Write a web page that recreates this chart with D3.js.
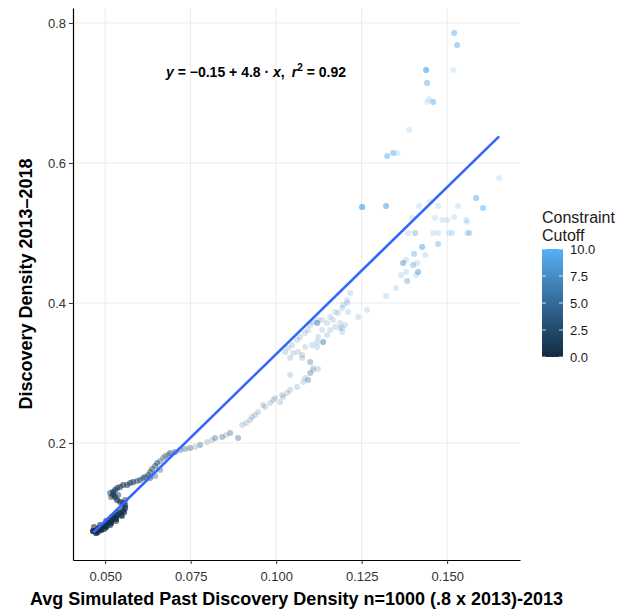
<!DOCTYPE html>
<html>
<head>
<meta charset="utf-8">
<script src="https://cdn.jsdelivr.net/npm/d3@7"></script>
<style>
body { margin: 0; background: #fff; }
text { font-family: "Liberation Sans", Arial, sans-serif; }
</style>
</head>
<body>
<div id="chart"></div>
<script>
// rows: [avg simulated past density, discovery density 2013-2018, constraint cutoff, overlapping runs]
var lowCutoff = [
    [0.04649, 0.07429, 0.00, 10], [0.04737, 0.07143, 0.05, 8], [0.04708, 0.07429, 0.10, 10],
    [0.04795, 0.07714, 0.15, 10], [0.04883, 0.07571, 0.20, 8], [0.04854, 0.07857, 0.25, 10],
    [0.04942, 0.08143, 0.30, 9], [0.05029, 0.08000, 0.35, 8], [0.05000, 0.08286, 0.40, 9],
    [0.05088, 0.08571, 0.45, 9], [0.05175, 0.08571, 0.50, 8], [0.05146, 0.08857, 0.55, 8],
    [0.05234, 0.09143, 0.60, 8], [0.05322, 0.09143, 0.65, 7], [0.05292, 0.09429, 0.70, 7],
    [0.05351, 0.09714, 0.75, 7], [0.05468, 0.09714, 0.80, 6], [0.05439, 0.10000, 0.85, 6],
    [0.05556, 0.10143, 0.90, 6], [0.05526, 0.10429, 0.95, 6], [0.05585, 0.10714, 1.00, 6],
    [0.05585, 0.11143, 1.05, 5],
    [0.04795, 0.07286, 0.12, 5], [0.04971, 0.07714, 0.32, 5], [0.05146, 0.08286, 0.52, 5],
    [0.05322, 0.08857, 0.68, 4], [0.05497, 0.09571, 0.88, 4], [0.04678, 0.08000, 0.08, 4],
    [0.04854, 0.08286, 0.28, 4], [0.05029, 0.08857, 0.48, 4], [0.05205, 0.09429, 0.66, 4],
    [0.05380, 0.10143, 0.86, 4]
];

var hookCutoff = [
    [0.05526, 0.11429, 1.10, 5], [0.05439, 0.11571, 1.15, 5], [0.05351, 0.11857, 1.20, 5],
    [0.05292, 0.12286, 1.25, 5], [0.05234, 0.12571, 1.30, 5], [0.05234, 0.13000, 1.35, 5],
    [0.05292, 0.13286, 1.40, 4], [0.05351, 0.13571, 1.45, 4], [0.05439, 0.13714, 1.50, 4],
    [0.05526, 0.14000, 1.55, 4], [0.05643, 0.14000, 1.60, 4], [0.05731, 0.14286, 1.70, 4],
    [0.05585, 0.11857, 1.12, 3], [0.05175, 0.12286, 1.28, 3], [0.05146, 0.12857, 1.33, 3],
    [0.05380, 0.12571, 1.38, 3],
    [0.05819, 0.14429, 1.80, 4], [0.05936, 0.14571, 1.90, 3], [0.06023, 0.14714, 2.00, 3],
    [0.06111, 0.15000, 2.10, 3], [0.06170, 0.15143, 2.20, 3], [0.06257, 0.15429, 2.30, 3],
    [0.06316, 0.15000, 2.35, 3], [0.06316, 0.15857, 2.40, 3], [0.06374, 0.16286, 2.50, 3],
    [0.06462, 0.15286, 2.55, 2], [0.06462, 0.16714, 2.60, 3], [0.06520, 0.17143, 2.70, 3],
    [0.06608, 0.16143, 2.75, 2], [0.06608, 0.17429, 2.80, 2], [0.06696, 0.17857, 2.90, 2],
    [0.06754, 0.18143, 3.00, 2], [0.06842, 0.18286, 3.10, 2], [0.06900, 0.18571, 3.20, 3],
    [0.07047, 0.18714, 3.30, 3], [0.07193, 0.19000, 3.40, 2], [0.07339, 0.19143, 3.50, 2],
    [0.07485, 0.19286, 3.60, 2], [0.07632, 0.19429, 3.70, 1], [0.07778, 0.19714, 3.80, 2]
];

var midCutoff = [
    [0.07982, 0.20143, 3.90, 1], [0.08128, 0.20429, 4.00, 1], [0.08216, 0.20714, 4.05, 2],
    [0.08421, 0.20857, 4.10, 2], [0.08538, 0.21143, 4.20, 1], [0.08655, 0.21429, 4.25, 2],
    [0.08889, 0.20714, 4.30, 2], [0.09006, 0.22571, 4.40, 1], [0.09123, 0.22857, 4.45, 1],
    [0.09240, 0.23286, 4.50, 1], [0.09298, 0.23714, 4.55, 1], [0.09386, 0.24000, 4.60, 1],
    [0.09474, 0.24429, 4.65, 1], [0.09620, 0.25429, 4.70, 1], [0.09678, 0.25143, 4.75, 1],
    [0.09825, 0.25714, 4.80, 1], [0.09912, 0.26143, 4.85, 1], [0.09971, 0.26429, 4.90, 1],
    [0.10117, 0.25857, 4.95, 1], [0.10175, 0.26857, 5.00, 1], [0.10205, 0.26571, 5.05, 1],
    [0.10322, 0.27143, 5.10, 1], [0.10409, 0.27571, 5.15, 1], [0.10409, 0.29714, 5.20, 1],
    [0.10614, 0.28000, 5.25, 1], [0.10790, 0.28714, 5.30, 1], [0.10848, 0.29286, 5.35, 1],
    [0.10936, 0.29000, 5.40, 2], [0.10994, 0.30000, 5.45, 2], [0.11082, 0.30429, 5.50, 1],
    [0.11082, 0.30714, 5.55, 1], [0.11228, 0.30571, 5.60, 1], [0.10994, 0.31571, 5.65, 2]
];

var bandCutoff = [
    [0.10263, 0.33000, 5.70, 1], [0.10409, 0.32143, 5.72, 1], [0.10497, 0.32857, 5.75, 1],
    [0.10643, 0.33000, 5.80, 1], [0.10760, 0.32571, 5.82, 1], [0.10760, 0.32143, 5.85, 1],
    [0.10351, 0.33571, 5.90, 1], [0.10468, 0.34000, 5.95, 1], [0.10614, 0.34714, 6.00, 1],
    [0.10848, 0.33714, 6.05, 1], [0.10702, 0.35143, 6.10, 1], [0.11053, 0.34000, 6.15, 1],
    [0.11199, 0.33714, 6.20, 1], [0.10848, 0.35714, 6.25, 1], [0.11199, 0.34429, 6.30, 1],
    [0.11374, 0.34429, 6.35, 3], [0.10936, 0.36143, 6.40, 1], [0.11228, 0.35143, 6.45, 1],
    [0.10994, 0.36857, 6.50, 1], [0.11491, 0.35429, 6.55, 1], [0.11082, 0.37286, 6.60, 1],
    [0.11345, 0.36143, 6.65, 1], [0.11199, 0.37143, 6.70, 3], [0.11579, 0.36143, 6.72, 1],
    [0.11228, 0.37571, 6.75, 1], [0.11345, 0.37571, 6.80, 1], [0.11725, 0.36571, 6.82, 1],
    [0.11491, 0.37143, 6.85, 1], [0.11871, 0.36429, 6.88, 1], [0.11930, 0.36429, 6.90, 1],
    [0.11930, 0.35857, 6.92, 1], [0.12018, 0.36857, 6.95, 1], [0.11579, 0.38000, 7.00, 1],
    [0.11871, 0.37143, 7.02, 1], [0.11667, 0.37571, 7.05, 1], [0.11725, 0.38714, 7.10, 1],
    [0.11813, 0.38571, 7.15, 1], [0.11930, 0.39286, 7.20, 1], [0.11959, 0.39714, 7.25, 1],
    [0.12076, 0.40000, 7.30, 1], [0.12076, 0.40429, 7.35, 1], [0.12105, 0.38714, 7.40, 1],
    [0.12164, 0.41429, 7.45, 1], [0.12398, 0.38000, 7.50, 1], [0.12661, 0.39000, 7.55, 1]
];

var highCutoff = [
    [0.13216, 0.41000, 7.60, 1], [0.13509, 0.42143, 7.70, 1], [0.13655, 0.44000, 7.80, 1],
    [0.13831, 0.43143, 7.90, 2], [0.13714, 0.45714, 8.00, 3], [0.13801, 0.46143, 8.05, 1],
    [0.13801, 0.44429, 8.10, 1], [0.14006, 0.45429, 8.15, 2], [0.14123, 0.45714, 8.20, 1],
    [0.14094, 0.44000, 8.25, 1], [0.14152, 0.44429, 8.30, 3], [0.14035, 0.47000, 8.35, 2],
    [0.14357, 0.46857, 8.40, 1], [0.14269, 0.48000, 8.45, 3], [0.14737, 0.48429, 8.50, 2],
    [0.13860, 0.50000, 8.55, 1], [0.14064, 0.50000, 8.60, 2], [0.14590, 0.50000, 8.65, 1],
    [0.14737, 0.50000, 8.70, 1], [0.15058, 0.50000, 8.75, 1], [0.15146, 0.50000, 8.80, 1],
    [0.15585, 0.50000, 8.85, 1], [0.15643, 0.50000, 8.90, 2], [0.13977, 0.52143, 8.95, 1],
    [0.14649, 0.52143, 9.00, 1], [0.14854, 0.51857, 9.05, 1], [0.15000, 0.51857, 9.10, 1],
    [0.15205, 0.52286, 9.15, 1], [0.15556, 0.51857, 9.20, 1], [0.15585, 0.51571, 9.25, 1],
    [0.14181, 0.53857, 9.30, 1], [0.14503, 0.54429, 9.35, 1], [0.14737, 0.53857, 9.40, 1],
    [0.15322, 0.53857, 9.45, 1], [0.15848, 0.55000, 9.50, 3], [0.16053, 0.53571, 9.55, 3],
    [0.13216, 0.53857, 9.60, 4], [0.12515, 0.53714, 10.0, 6], [0.16520, 0.57857, 9.65, 1],
    [0.13246, 0.61000, 9.70, 3], [0.13421, 0.61429, 9.75, 3], [0.13538, 0.61429, 9.78, 1],
    [0.13889, 0.64714, 9.80, 1], [0.14415, 0.68714, 9.82, 1], [0.14474, 0.69143, 9.85, 1],
    [0.14590, 0.68714, 9.88, 3], [0.14415, 0.71429, 9.90, 3], [0.14386, 0.73286, 9.95, 5],
    [0.15175, 0.73286, 9.97, 1], [0.15205, 0.78573, 10.0, 3], [0.15292, 0.76857, 10.0, 3]
];

// linear fit reported in the annotation
var fitIntercept = -0.15;
var fitSlope = 4.77;
var fitR2 = 0.92;

var xTicks = [0.05, 0.075, 0.1, 0.125, 0.15];
var yTicks = [0.2, 0.4, 0.6, 0.8];
var legendTicks = [0, 2.5, 5, 7.5, 10];

var width = 642, height = 612;
var margin = { top: 8, right: 122, bottom: 52, left: 73 };
var innerW = width - margin.left - margin.right;
var innerH = height - margin.top - margin.bottom;

var points = lowCutoff.concat(hookCutoff, midCutoff, bandCutoff, highCutoff);

var x = d3.scaleLinear().domain([0.0406, 0.1713]).range([0, innerW]);
var y = d3.scaleLinear().domain([0.0329, 0.8214]).range([innerH, 0]);
var color = d3.scaleLinear().domain([0, 10])
    .range(["#132B43", "#56B1F7"])
    .interpolate(d3.interpolateLab);

var svg = d3.select("#chart").append("svg")
    .attr("width", width)
    .attr("height", height);

var g = svg.append("g")
    .attr("transform", "translate(" + margin.left + "," + margin.top + ")");

// grid
g.append("g").selectAll("line")
    .data(xTicks).enter().append("line")
    .attr("x1", d => x(d)).attr("x2", d => x(d))
    .attr("y1", 0).attr("y2", innerH)
    .attr("stroke", "#ebebeb").attr("stroke-width", 1);

g.append("g").selectAll("line")
    .data(yTicks).enter().append("line")
    .attr("x1", 0).attr("x2", innerW)
    .attr("y1", d => y(d)).attr("y2", d => y(d))
    .attr("stroke", "#ebebeb").attr("stroke-width", 1);

// each run is drawn once, so overlapping runs build up the colour
var runs = points.flatMap(d => d3.range(d[3]).map(() => d));

g.append("g").selectAll("circle")
    .data(runs).enter().append("circle")
    .attr("cx", d => x(d[0]))
    .attr("cy", d => y(d[1]))
    .attr("r", 3)
    .attr("fill", d => color(d[2]))
    .attr("fill-opacity", 0.2);

// fitted line across the observed x range
var xExt = d3.extent(points, d => d[0]);
g.append("line")
    .attr("x1", x(xExt[0])).attr("y1", y(fitIntercept + fitSlope * xExt[0]))
    .attr("x2", x(xExt[1])).attr("y2", y(fitIntercept + fitSlope * xExt[1]))
    .attr("stroke", "#3366FF")
    .attr("stroke-width", 2.6);

// axes
var xAxis = g.append("g")
    .attr("transform", "translate(0," + innerH + ")")
    .call(d3.axisBottom(x).tickValues(xTicks).tickFormat(d3.format(".3f")).tickSize(4).tickSizeOuter(0));
var yAxis = g.append("g")
    .call(d3.axisLeft(y).tickValues(yTicks).tickFormat(d3.format(".1f")).tickSize(4).tickSizeOuter(0));

[xAxis, yAxis].forEach(function (a) {
    a.select(".domain").attr("stroke", "#000").attr("stroke-width", 1.2);
    a.selectAll(".tick line").attr("stroke", "#333");
    a.selectAll(".tick text")
        .attr("fill", "#333")
        .style("font-size", "13px")
        .style("font-family", "'Liberation Sans', Arial, sans-serif");
});
xAxis.selectAll(".tick text").attr("dy", "1.05em");

// axis titles
svg.append("text")
    .attr("x", margin.left + innerW / 2)
    .attr("y", 605)
    .attr("text-anchor", "middle")
    .style("font-size", "18px")
    .style("font-weight", "bold")
    .text("Avg Simulated Past Discovery Density n=1000 (.8 x 2013)-2013");

svg.append("text")
    .attr("transform", "translate(32," + (margin.top + innerH / 2) + ") rotate(-90)")
    .attr("text-anchor", "middle")
    .style("font-size", "18px")
    .style("font-weight", "bold")
    .text("Discovery Density 2013\u20132018");

// equation label
var eq = svg.append("text")
    .attr("x", 256)
    .attr("y", 77)
    .attr("text-anchor", "middle")
    .style("font-size", "14px")
    .style("font-weight", "bold");
eq.append("tspan").style("font-style", "italic").text("y");
eq.append("tspan").text(" = " + d3.format(".2")(fitIntercept) + " + " + d3.format(".2")(fitSlope) + " \u00b7 ");
eq.append("tspan").style("font-style", "italic").text("x");
eq.append("tspan").text(",\u2002");
eq.append("tspan").style("font-style", "italic").text("r");
eq.append("tspan").attr("dy", -6).style("font-size", "10px").text("2");
eq.append("tspan").attr("dy", 6).text(" = " + d3.format(".2f")(fitR2));

// colour bar legend
var barX = 542, barW = 21, barTop = 249, barH = 108;
var legY = d3.scaleLinear().domain([0, 10]).range([barTop + barH, barTop]);

var grad = svg.append("defs").append("linearGradient")
    .attr("id", "cutoffGrad")
    .attr("x1", 0).attr("y1", 1).attr("x2", 0).attr("y2", 0);
grad.selectAll("stop")
    .data(d3.range(0, 10.01, 1)).enter().append("stop")
    .attr("offset", d => d / 10)
    .attr("stop-color", d => color(d));

svg.append("rect")
    .attr("x", barX).attr("y", barTop)
    .attr("width", barW).attr("height", barH)
    .attr("fill", "url(#cutoffGrad)");

var lt = svg.append("g");
legendTicks.forEach(function (t) {
    lt.append("line")
        .attr("x1", barX).attr("x2", barX + 4)
        .attr("y1", legY(t)).attr("y2", legY(t))
        .attr("stroke", "#fff").attr("stroke-width", 0.8);
    lt.append("line")
        .attr("x1", barX + barW - 4).attr("x2", barX + barW)
        .attr("y1", legY(t)).attr("y2", legY(t))
        .attr("stroke", "#fff").attr("stroke-width", 0.8);
    lt.append("text")
        .attr("x", barX + barW + 7)
        .attr("y", legY(t))
        .attr("dy", "0.35em")
        .style("font-size", "13px")
        .attr("fill", "#1a1a1a")
        .text(d3.format(".1f")(t));
});

var title = svg.append("text")
    .attr("x", barX)
    .attr("y", 223)
    .style("font-size", "16px")
    .attr("fill", "#1a1a1a");
title.append("tspan").attr("x", barX).text("Constraint");
title.append("tspan").attr("x", barX).attr("dy", 18).text("Cutoff");
</script>
</body>
</html>
